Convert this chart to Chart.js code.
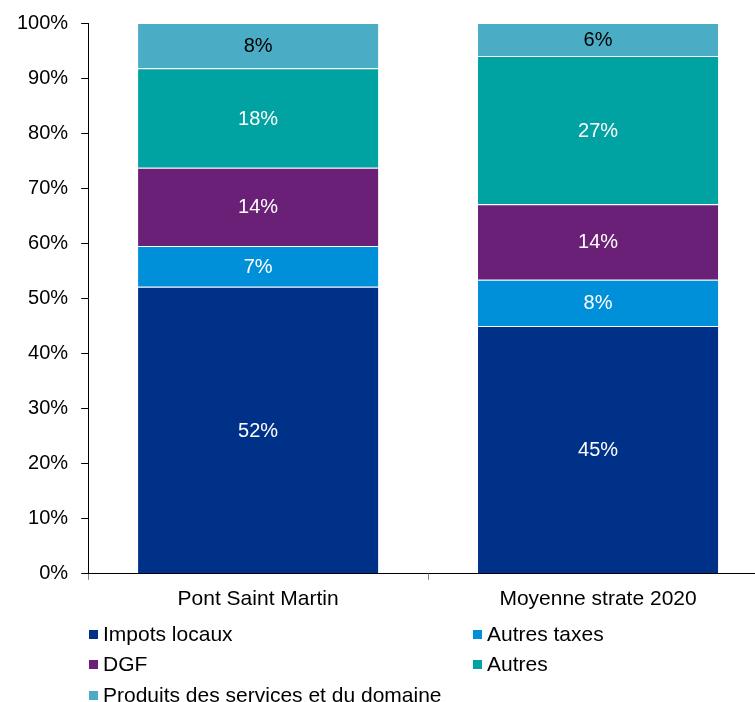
<!DOCTYPE html>
<html>
<head>
<meta charset="utf-8">
<script src="https://cdn.jsdelivr.net/npm/chart.js@4/dist/chart.umd.min.js"></script>
<style>
  html, body { margin: 0; padding: 0; background: #fff; overflow: hidden; }
  #wrap { position: relative; width: 768px; height: 702px; }
  #legend { position: absolute; left: 0; top: 0; width: 768px; height: 702px; pointer-events: none;
            font-family: "Liberation Sans", Arial, sans-serif; font-size: 21px; color: #000; }
  .item { position: absolute; white-space: nowrap; line-height: 24px; }
  .box { position: absolute; width: 9px; height: 9px; }
</style>
</head>
<body>
<div id="wrap">
  <canvas id="c" width="768" height="702"></canvas>
  <div id="legend"></div>
</div>
<script>
// Répartition des recettes de fonctionnement (en % du total)
const categories = ['Pont Saint Martin', 'Moyenne strate 2020'];
const seriesNames = ['Impots locaux', 'Autres taxes', 'DGF', 'Autres', 'Produits des services et du domaine'];
const impotsLocaux = [52.1, 45.0];
const autresTaxes = [7.4, 8.4];
const dgf = [14.2, 13.7];
const autres = [18.1, 26.9];
const produitsServices = [8.2, 6.0];
const yTicks = [0, 10, 20, 30, 40, 50, 60, 70, 80, 90, 100];

const colors = ['#003189', '#0090DA', '#6B2077', '#00A3A1', '#4BACC6'];
const labelColors = ['#fff', '#fff', '#fff', '#fff', '#000'];
const seriesValues = [impotsLocaux, autresTaxes, dgf, autres, produitsServices];
const FONT = '"Liberation Sans", Arial, sans-serif';

// Percentage labels centred in each segment
const segmentLabels = {
  id: 'segmentLabels',
  afterDatasetsDraw(chart) {
    const ctx = chart.ctx;
    ctx.save();
    ctx.font = '20px ' + FONT;
    ctx.textAlign = 'center';
    ctx.textBaseline = 'middle';
    chart.data.datasets.forEach((ds, i) => {
      const meta = chart.getDatasetMeta(i);
      meta.data.forEach((bar, j) => {
        const p = bar.getCenterPoint();
        ctx.fillStyle = labelColors[i];
        ctx.fillText(Math.round(ds.data[j]) + '%', p.x, p.y + 1);
      });
    });
    ctx.restore();
  }
};

const chart = new Chart(document.getElementById('c'), {
  type: 'bar',
  data: {
    labels: categories,
    datasets: seriesNames.map((name, i) => ({
      label: name,
      data: seriesValues[i],
      backgroundColor: colors[i],
      borderColor: 'rgba(255,255,255,0.85)',
      borderWidth: 1,
      categoryPercentage: 1,
      barPercentage: 0.712
    }))
  },
  options: {
    responsive: false,
    animation: false,
    devicePixelRatio: 1,
    layout: { padding: { left: 4, right: 0, top: 19, bottom: 83 } },
    plugins: { legend: { display: false }, tooltip: { enabled: false } },
    scales: {
      x: {
        stacked: true,
        offset: true,
        grid: { display: true, drawOnChartArea: false, offset: true, tickLength: 6, color: '#808080', lineWidth: 1 },
        border: { display: true, color: '#000', width: 1 },
        ticks: { color: '#000', padding: 7, font: { family: FONT, size: 21 } }
      },
      y: {
        stacked: true,
        min: 0,
        max: 100,
        afterBuildTicks(scale) { scale.ticks = yTicks.map(v => ({ value: v })); },
        grid: { display: true, drawOnChartArea: false, tickLength: 7, color: '#000', lineWidth: 1 },
        border: { display: true, color: '#000', width: 1 },
        ticks: { color: '#000', padding: 13, font: { family: FONT, size: 20, lineHeight: 1 }, callback: v => v + '%' }
      }
    }
  },
  plugins: [segmentLabels]
});

// Legend in two columns below the plot
const legend = document.getElementById('legend');
const colX = [89, 473];
const rowY = [634, 664, 695];
chart.data.datasets.forEach((ds, i) => {
  const col = i % 2, row = Math.floor(i / 2);
  const box = document.createElement('div');
  box.className = 'box';
  box.style.background = ds.backgroundColor;
  box.style.left = colX[col] + 'px';
  box.style.top = (rowY[row] - 4) + 'px';
  legend.appendChild(box);
  const t = document.createElement('div');
  t.className = 'item';
  t.textContent = ds.label;
  t.style.left = (colX[col] + 14) + 'px';
  t.style.top = (rowY[row] - 12) + 'px';
  legend.appendChild(t);
});
</script>
</body>
</html>
